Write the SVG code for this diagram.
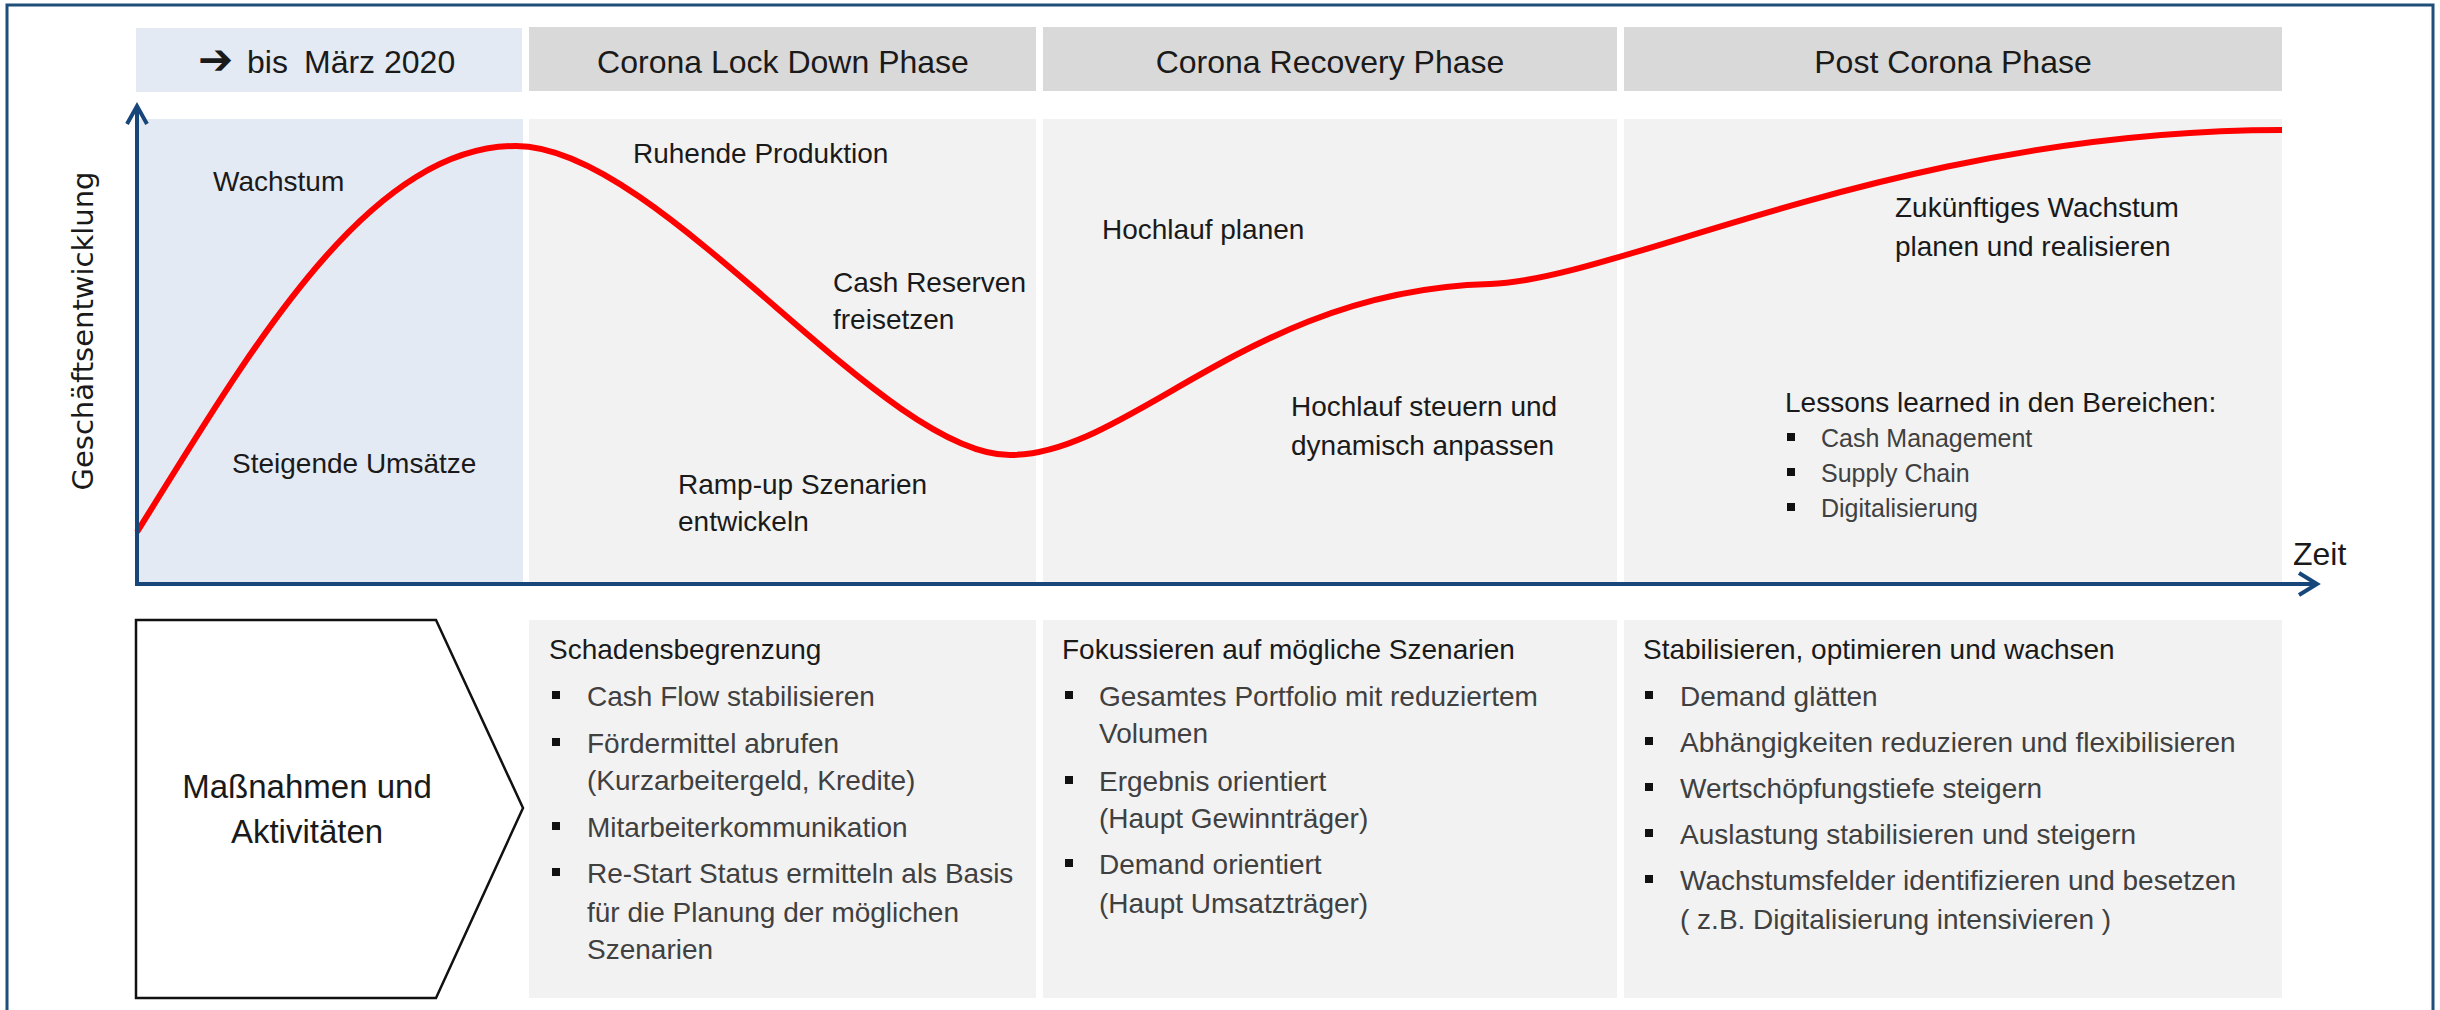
<svg xmlns="http://www.w3.org/2000/svg" width="2440" height="1010" viewBox="0 0 2440 1010">
<style>
.t{font-family:"Liberation Sans",Arial,sans-serif;fill:#1a1a1a}
.hd{font-size:32px;text-anchor:middle}
.lb{font-size:28px}
.ti{font-size:28px}
.bd{font-size:28px;fill:#404040}
.sm{font-size:25px;fill:#404040}
.hbox{fill:#D9D9D9}
.hblue{fill:#E4EAF3}
.cbg{fill:#F2F2F2}
.blt{fill:#111}
.ax{stroke:#17477A;stroke-width:4;fill:none}
</style>
<rect x="7" y="5" width="2426" height="1030" fill="#FFFFFF" stroke="#1F4E79" stroke-width="3"/>

<g id="header-bis-maerz">
<rect class="hblue" x="136" y="28" width="386" height="64"/>
<text class="t" x="198" y="74" style="font-family:'DejaVu Sans',sans-serif;font-size:42px;font-weight:bold">➔</text>
<text class="t" x="247" y="73" style="font-size:32px">bis</text>
<text class="t" x="304" y="73" style="font-size:32px">März 2020</text>
</g>
<g id="header-lockdown">
<rect class="hbox" x="529" y="27" width="507" height="64"/>
<text class="t hd" x="783" y="73">Corona Lock Down Phase</text>
</g>
<g id="header-recovery">
<rect class="hbox" x="1043" y="27" width="574" height="64"/>
<text class="t hd" x="1330" y="73">Corona Recovery Phase</text>
</g>
<g id="header-post">
<rect class="hbox" x="1624" y="27" width="658" height="64"/>
<text class="t hd" x="1953" y="73">Post Corona Phase</text>
</g>

<g id="chart-background">
<rect class="hblue" x="136" y="119" width="387" height="465"/>
<rect class="cbg" x="529" y="119" width="507" height="465"/>
<rect class="cbg" x="1043" y="119" width="574" height="465"/>
<rect class="cbg" x="1624" y="119" width="658" height="465"/>
</g>

<g id="curve">
<path d="M137,532 C247,356 366,146 516,146 C660,146 880,455 1010,455 C1130,455 1250,290 1490,284 C1620,280 1900,130 2282,130" fill="none" stroke="#FF0000" stroke-width="6"/>
</g>

<g id="connectors">
<path class="ax" d="M137,586 V106"/>
<path class="ax" d="M127,124 L137,106 L147,124"/>
<path class="ax" d="M135,584 H2317"/>
<path class="ax" d="M2299,573 L2317,584 L2299,595"/>
</g>

<g id="axis-labels">
<text class="t" transform="translate(93,331) rotate(-90)" text-anchor="middle" style="font-family:'DejaVu Sans',sans-serif;font-size:29px">Geschäftsentwicklung</text>
<text class="t" x="2293" y="565" style="font-size:32px">Zeit</text>
</g>

<g id="chart-labels-before">
<text class="t lb" x="213" y="191">Wachstum</text>
<text class="t lb" x="232" y="473">Steigende Umsätze</text>
</g>
<g id="chart-labels-lockdown">
<text class="t lb" x="633" y="163">Ruhende Produktion</text>
<text class="t lb" x="833" y="292">Cash Reserven</text>
<text class="t lb" x="833" y="329">freisetzen</text>
<text class="t lb" x="678" y="494">Ramp-up Szenarien</text>
<text class="t lb" x="678" y="531">entwickeln</text>
</g>
<g id="chart-labels-recovery">
<text class="t lb" x="1102" y="239">Hochlauf planen</text>
<text class="t lb" x="1291" y="416">Hochlauf steuern und</text>
<text class="t lb" x="1291" y="455">dynamisch anpassen</text>
</g>
<g id="chart-labels-post">
<text class="t lb" x="1895" y="217">Zukünftiges Wachstum</text>
<text class="t lb" x="1895" y="256">planen und realisieren</text>
<text class="t lb" x="1785" y="412">Lessons learned in den Bereichen:</text>
<rect class="blt" x="1787" y="433" width="8" height="8"/>
<text class="t sm" x="1821" y="447">Cash Management</text>
<rect class="blt" x="1787" y="468" width="8" height="8"/>
<text class="t sm" x="1821" y="482">Supply Chain</text>
<rect class="blt" x="1787" y="503" width="8" height="8"/>
<text class="t sm" x="1821" y="517">Digitalisierung</text>
</g>

<g id="massnahmen">
<path d="M136,620 H436 L523,808 L436,998 H136 Z" fill="#FFFFFF" stroke="#111" stroke-width="2.5"/>
<text class="t" x="307" y="798" text-anchor="middle" style="font-size:33px">Maßnahmen und</text>
<text class="t" x="307" y="843" text-anchor="middle" style="font-size:33px">Aktivitäten</text>
</g>

<g id="box-lockdown">
<rect class="cbg" x="529" y="620" width="507" height="378"/>
<text class="t ti" x="549" y="659">Schadensbegrenzung</text>
<rect class="blt" x="552" y="691" width="8" height="8"/>
<text class="t bd" x="587" y="706">Cash Flow stabilisieren</text>
<rect class="blt" x="552" y="738" width="8" height="8"/>
<text class="t bd" x="587" y="753">Fördermittel abrufen</text>
<text class="t bd" x="587" y="790">(Kurzarbeitergeld, Kredite)</text>
<rect class="blt" x="552" y="822" width="8" height="8"/>
<text class="t bd" x="587" y="837">Mitarbeiterkommunikation</text>
<rect class="blt" x="552" y="868" width="8" height="8"/>
<text class="t bd" x="587" y="883">Re-Start Status ermitteln als Basis</text>
<text class="t bd" x="587" y="922">für die Planung der möglichen</text>
<text class="t bd" x="587" y="959">Szenarien</text>
</g>

<g id="box-recovery">
<rect class="cbg" x="1043" y="620" width="574" height="378"/>
<text class="t ti" x="1062" y="659">Fokussieren auf mögliche Szenarien</text>
<rect class="blt" x="1065" y="691" width="8" height="8"/>
<text class="t bd" x="1099" y="706">Gesamtes Portfolio mit reduziertem</text>
<text class="t bd" x="1099" y="743">Volumen</text>
<rect class="blt" x="1065" y="776" width="8" height="8"/>
<text class="t bd" x="1099" y="791">Ergebnis orientiert</text>
<text class="t bd" x="1099" y="828">(Haupt Gewinnträger)</text>
<rect class="blt" x="1065" y="859" width="8" height="8"/>
<text class="t bd" x="1099" y="874">Demand orientiert</text>
<text class="t bd" x="1099" y="913">(Haupt Umsatzträger)</text>
</g>

<g id="box-post">
<rect class="cbg" x="1624" y="620" width="658" height="378"/>
<text class="t ti" x="1643" y="659">Stabilisieren, optimieren und wachsen</text>
<rect class="blt" x="1645" y="691" width="8" height="8"/>
<text class="t bd" x="1680" y="706">Demand glätten</text>
<rect class="blt" x="1645" y="737" width="8" height="8"/>
<text class="t bd" x="1680" y="752">Abhängigkeiten reduzieren und flexibilisieren</text>
<rect class="blt" x="1645" y="783" width="8" height="8"/>
<text class="t bd" x="1680" y="798">Wertschöpfungstiefe steigern</text>
<rect class="blt" x="1645" y="829" width="8" height="8"/>
<text class="t bd" x="1680" y="844">Auslastung stabilisieren und steigern</text>
<rect class="blt" x="1645" y="875" width="8" height="8"/>
<text class="t bd" x="1680" y="890">Wachstumsfelder identifizieren und besetzen</text>
<text class="t bd" x="1680" y="929">( z.B. Digitalisierung intensivieren )</text>
</g>
</svg>
